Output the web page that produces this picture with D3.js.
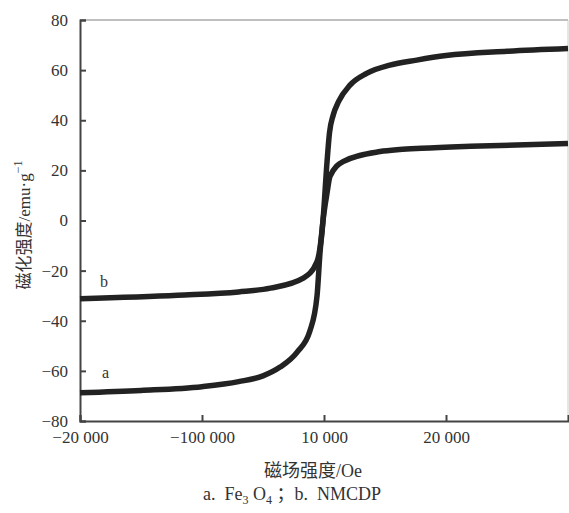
<!DOCTYPE html>
<html>
<head>
  <meta charset="utf-8">
  <title>磁滞回线</title>
  <script src="https://d3js.org/d3.v7.min.js"></script>
  <style>
    body { margin: 0; background: white; }
    text { font-family: "Liberation Serif", "Noto Sans CJK SC", serif; fill: #333; white-space: pre; }
  </style>
</head>
<body>
  <div id="graphContainer"></div>
  <script>
    // field (Oe) and magnetization (emu/g)
    var fieldA = [-20000, -15000, -10000, -7000, -5000, -3600, -2200, -1150, -570, -330, -80,
                  250, 450, 750, 1200, 2130, 3500, 5400, 7600, 10000, 15000, 20000];
    var magA   = [-68.7, -67.8, -66.3, -64.3, -62, -58.5, -52.5, -44, -30, -13, 0,
                  23.5, 35, 42, 47.5, 54, 58.7, 62, 64, 65.8, 67.5, 68.6];
    var fieldB = [-20000, -12000, -7000, -4400, -1700, -570, -250, -80,
                  250, 490, 1560, 4600, 6200, 8000, 12000, 20000];
    var magB   = [-31.2, -29.8, -28.5, -27, -23, -16.4, -8, 0,
                  11, 17.6, 23.5, 27.5, 28.3, 28.8, 29.6, 30.7];
    var xTickValues = [-20000, -10000, 0, 10000];
    var xTickLabels = ["\u221220 000", "\u2212100 000", "10 000", "20 000"];
    var yTickValues = [-80, -60, -40, -20, 0, 20, 40, 60, 80];

    var width = 569;
    var height = 513;
    var plotLeft = 80, plotRight = 568, plotTop = 20, plotBottom = 421;

    var svg = d3.select("#graphContainer")
      .append("svg")
        .attr("width", width)
        .attr("height", height);

    var x = d3.scaleLinear().domain([-20000, 20000]).range([plotLeft, plotRight]);
    var y = d3.scaleLinear().domain([-80, 80]).range([plotBottom, plotTop]);

    // light frame on top and right
    svg.append("line")
      .attr("x1", plotLeft).attr("x2", plotRight).attr("y1", plotTop).attr("y2", plotTop)
      .attr("stroke", "#aaa").attr("stroke-width", 1.5);
    svg.append("line")
      .attr("x1", plotRight).attr("x2", plotRight).attr("y1", plotTop).attr("y2", plotBottom)
      .attr("stroke", "#ccc").attr("stroke-width", 1);

    var yAxis = svg.append("g")
      .attr("transform", "translate(" + plotLeft + ",0)")
      .call(d3.axisLeft(y)
        .tickValues(yTickValues)
        .tickSize(-6)
        .tickPadding(12)
        .tickFormat(function (d) { return String(d).replace("-", "\u2212"); }));

    var xAxis = svg.append("g")
      .attr("transform", "translate(0," + plotBottom + ")")
      .call(d3.axisBottom(x)
        .tickValues(xTickValues)
        .tickSize(-6)
        .tickPadding(10)
        .tickFormat(function (d, i) { return xTickLabels[i]; }));

    [xAxis, yAxis].forEach(function (ax) {
      ax.select(".domain").attr("stroke", "#444").attr("stroke-width", 2);
      ax.selectAll(".tick line").attr("stroke", "#444").attr("stroke-width", 2);
      ax.selectAll("text")
        .style("font-family", "'Liberation Serif', serif")
        .style("font-size", "17px")
        .attr("fill", "#333");
    });

    var line = d3.line()
      .x(function (d) { return x(d[0]); })
      .y(function (d) { return y(d[1]); })
      .curve(d3.curveMonotoneX);

    [[fieldA, magA], [fieldB, magB]].forEach(function (s) {
      svg.append("path")
        .datum(d3.zip(s[0], s[1]))
        .attr("d", line)
        .attr("fill", "none")
        .attr("stroke", "#222")
        .attr("stroke-width", 5.5)
        .attr("stroke-linecap", "butt");
    });

    // curve labels
    svg.append("text").attr("x", 100).attr("y", 287)
      .style("font-size", "16px").text("b");
    svg.append("text").attr("x", 102).attr("y", 378)
      .style("font-size", "16px").text("a");

    // axis titles
    svg.append("text")
      .attr("x", 313).attr("y", 477)
      .attr("text-anchor", "middle")
      .style("font-size", "18px")
      .text("磁场强度/Oe");

    var yt = svg.append("text")
      .attr("transform", "translate(30,225) rotate(-90)")
      .attr("text-anchor", "middle")
      .style("font-size", "17px");
    yt.append("tspan").text("磁化强度/emu·g");
    yt.append("tspan").attr("dy", -8).style("font-size", "12px").text("\u22121");

    var cap = svg.append("text")
      .attr("x", 292).attr("y", 500)
      .attr("text-anchor", "middle")
      .style("font-size", "18px");
    cap.append("tspan").text("a.  Fe");
    cap.append("tspan").attr("dy", 4).style("font-size", "12px").text("3");
    cap.append("tspan").attr("dy", -4).text(" O");
    cap.append("tspan").attr("dy", 4).style("font-size", "12px").text("4");
    cap.append("tspan").attr("dy", -4).text(" ；b.  NMCDP");
  </script>
</body>
</html>
